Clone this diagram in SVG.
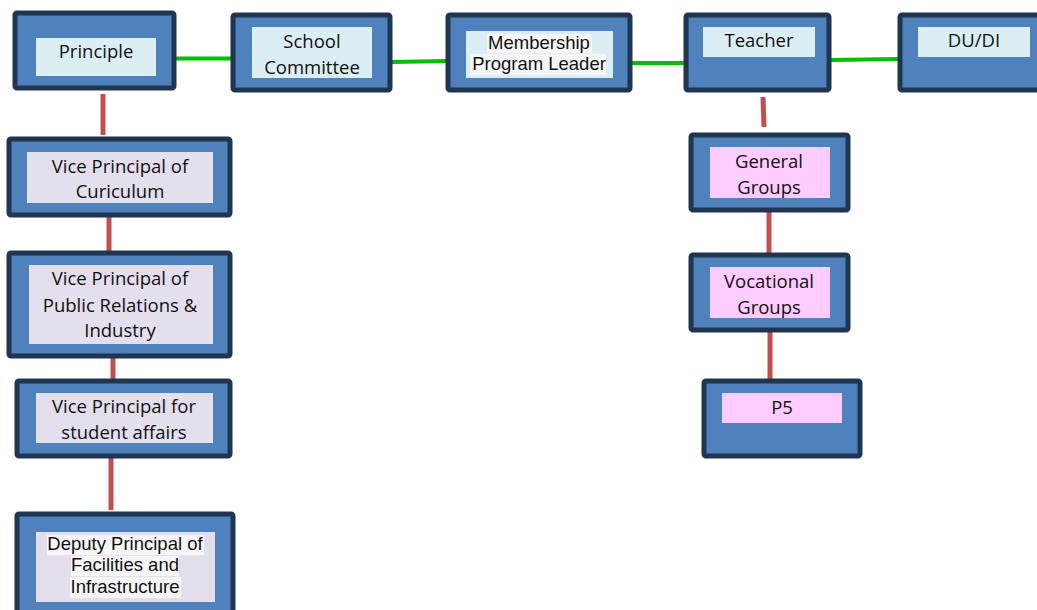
<svg xmlns="http://www.w3.org/2000/svg" width="1037" height="610" viewBox="0 0 1037 610">
<style>
.box{fill:#4f81bd;stroke:#1f3550;stroke-width:5}
.lb{fill:#daeef3}
.lv{fill:#e4dfec}
.lp{fill:#ffccff}
.hl{fill:#f6f6f6}
.t{font-family:"Open Sans","Liberation Sans",sans-serif;font-size:18.5px;fill:#111;text-anchor:middle}
.a{font-family:"Liberation Sans",Arial,sans-serif;font-size:18.5px;fill:#111;text-anchor:middle}
.g{stroke:#00c000;stroke-width:4;fill:none}
.r{stroke:#c0504d;stroke-width:5;fill:none}
</style>
<rect width="1037" height="610" fill="#fff"/>
<g id="connectors">
<line class="g" x1="176" y1="58.5" x2="231" y2="58.5"/>
<line class="g" x1="392" y1="62" x2="446" y2="61"/>
<line class="g" x1="632" y1="63" x2="684" y2="63"/>
<line class="g" x1="831" y1="60" x2="898" y2="59"/>
<line class="r" x1="103" y1="94" x2="103" y2="135"/>
<line class="r" x1="109" y1="215" x2="109" y2="252"/>
<line class="r" x1="113" y1="345" x2="113" y2="382"/>
<line class="r" x1="111" y1="457" x2="111" y2="510"/>
<line class="r" x1="763" y1="97" x2="764" y2="127"/>
<line class="r" x1="769" y1="211" x2="769" y2="253"/>
<line class="r" x1="770" y1="332" x2="770" y2="380"/>
</g>
<g id="principle">
<rect class="box" x="15" y="13" width="159" height="75" rx="2"/>
<rect class="lb" x="36" y="38" width="120" height="38"/>
<text class="t" x="96" y="58">Principle</text>
</g>
<g id="school-committee">
<rect class="box" x="233" y="15" width="157" height="75" rx="2"/>
<rect class="lb" x="252" y="27" width="120" height="51"/>
<text class="t" x="312" y="48">School</text>
<text class="t" x="312" y="74">Committee</text>
</g>
<g id="membership">
<rect class="box" x="448" y="15" width="182" height="75" rx="2"/>
<rect class="lb" x="466" y="31" width="147" height="47"/>
<rect class="hl" x="487" y="34" width="105" height="19"/>
<rect class="hl" x="470" y="54" width="136" height="21"/>
<text class="a" x="539" y="49">Membership</text>
<text class="a" x="539" y="70">Program Leader</text>
</g>
<g id="teacher">
<rect class="box" x="686" y="15" width="143" height="75" rx="2"/>
<rect class="lb" x="703" y="27" width="112" height="30"/>
<text class="t" x="759" y="47">Teacher</text>
</g>
<g id="dudi">
<rect class="box" x="900" y="15" width="142" height="75" rx="2"/>
<rect class="lb" x="918" y="27" width="112" height="30"/>
<text class="t" x="974" y="47">DU/DI</text>
</g>
<g id="vp-curriculum">
<rect class="box" x="9" y="139" width="221" height="76" rx="2"/>
<rect class="lv" x="27" y="152" width="186" height="51"/>
<text class="t" x="120" y="173">Vice Principal of</text>
<text class="t" x="120" y="198">Curiculum</text>
</g>
<g id="vp-public-relations">
<rect class="box" x="9" y="253" width="221" height="103" rx="2"/>
<rect class="lv" x="29" y="265" width="184" height="79"/>
<text class="t" x="120" y="285">Vice Principal of</text>
<text class="t" x="120" y="312">Public Relations &amp;</text>
<text class="t" x="120" y="337">Industry</text>
</g>
<g id="vp-student-affairs">
<rect class="box" x="17" y="381" width="213" height="75" rx="2"/>
<rect class="lv" x="36" y="393" width="177" height="50"/>
<text class="t" x="124" y="413">Vice Principal for</text>
<text class="t" x="124" y="439">student affairs</text>
</g>
<g id="deputy-principal">
<rect class="box" x="17" y="514" width="216" height="110" rx="2"/>
<rect class="lv" x="36" y="532" width="179" height="70"/>
<rect class="hl" x="47" y="535" width="157" height="20"/>
<rect class="hl" x="71" y="556" width="108" height="20"/>
<rect class="hl" x="70" y="577" width="111" height="21"/>
<text class="a" x="125" y="550">Deputy Principal of</text>
<text class="a" x="125" y="571">Facilities and</text>
<text class="a" x="125" y="593">Infrastructure</text>
</g>
<g id="general-groups">
<rect class="box" x="691" y="135" width="157" height="75" rx="2"/>
<rect class="lp" x="710" y="147" width="120" height="51"/>
<text class="t" x="769" y="168">General</text>
<text class="t" x="769" y="194">Groups</text>
</g>
<g id="vocational-groups">
<rect class="box" x="691" y="255" width="157" height="75" rx="2"/>
<rect class="lp" x="710" y="267" width="120" height="51"/>
<text class="t" x="769" y="288">Vocational</text>
<text class="t" x="769" y="314">Groups</text>
</g>
<g id="p5">
<rect class="box" x="704" y="381" width="156" height="75" rx="2"/>
<rect class="lp" x="722" y="393" width="120" height="30"/>
<text class="t" x="782" y="414">P5</text>
</g>
</svg>
